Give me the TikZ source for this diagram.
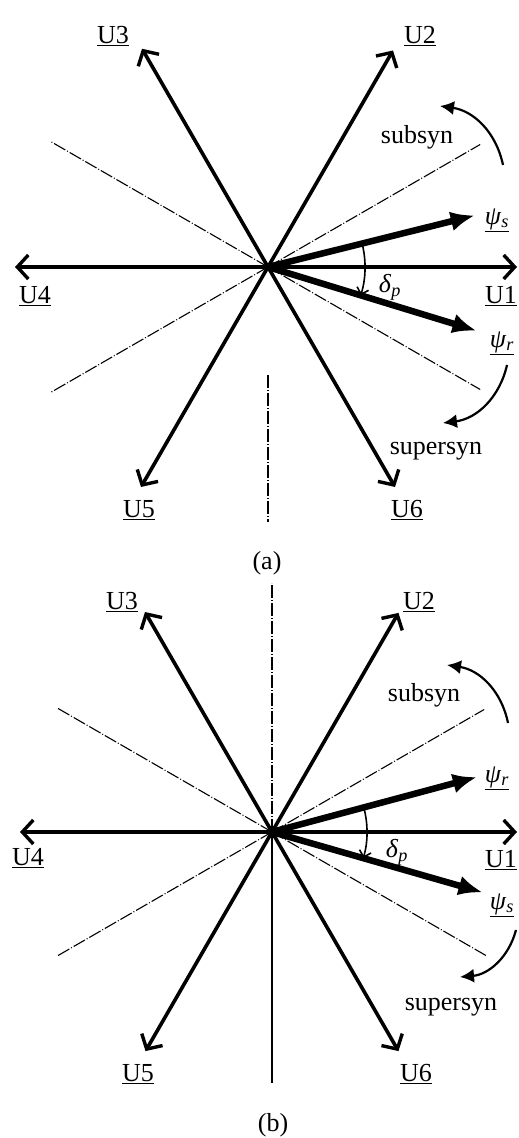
\documentclass[tikz,border=0pt]{standalone}
\usepackage{fontspec}
\setmainfont{Liberation Serif}
\usetikzlibrary{arrows.meta}

\begin{document}
\begin{tikzpicture}[x=1pt,y=1pt,font=\fontsize{26}{30}\selectfont]
\tikzstyle{vec} = [line width=3.6pt, -{Straight Barb[length=11pt,width=24pt,line width=3.4pt]}]
\tikzstyle{flux} = [line width=6.5pt, -{Latex[length=24pt,width=20pt]}]
\tikzstyle{guide} = [line width=1.1pt, dash pattern=on 13pt off 2pt on 1pt off 2pt]
\tikzstyle{turn} = [line width=2.2pt, -{Latex[length=14pt,width=14pt]}]
\tikzstyle{angle} = [line width=1.6pt, -{Straight Barb[length=6pt,width=12pt]}]
\tikzstyle{lbl} = [inner sep=0pt]

\useasboundingbox (0,0) rectangle (519,1138);

% (a) stator flux leads
\begin{scope}[shift={(268,871)}]
\coordinate (oa) at (0,0);
\coordinate (u1a) at (0:249);
\coordinate (u2a) at (60:250);
\coordinate (u3a) at (120:252);
\coordinate (u4a) at (180:253);
\coordinate (u5a) at (240:254);
\coordinate (u6a) at (300:254);
\coordinate (psa) at (14:213);
\coordinate (pra) at (-17:218);
\coordinate (g1a) at (30:245);
\coordinate (g2a) at (150:250);
\coordinate (g3a) at (210:250);
\coordinate (g4a) at (330:245);
\coordinate (v1a) at (270:108);
\coordinate (v2a) at (270:255);
\coordinate (d1a) at (14:97);
\coordinate (s1a) at (235,102);
\coordinate (s2a) at (172,161);
\coordinate (t1a) at (239,-98);
\coordinate (t2a) at (175,-156);

\draw [guide] (oa) -- (g1a);
\draw [guide] (oa) -- (g2a);
\draw [guide] (oa) -- (g3a);
\draw [guide] (oa) -- (g4a);
\draw [guide] (v1a) -- (v2a);

\draw [vec] (oa) -- (u1a);
\draw [vec] (oa) -- (u2a);
\draw [vec] (oa) -- (u3a);
\draw [vec] (oa) -- (u4a);
\draw [vec] (oa) -- (u5a);
\draw [vec] (oa) -- (u6a);
\draw [flux] (oa) -- (psa);
\draw [flux] (oa) -- (pra);
\draw [angle] (d1a) arc[start angle=14, end angle=-17, radius=97];
\draw [turn] (s1a) to[bend right=35] (s2a);
\draw [turn] (t1a) to[bend left=35] (t2a);

\node[lbl] (l1a) at (233,-29) {\underline{U1}};
\node[lbl] (l2a) at (152,231) {\underline{U2}};
\node[lbl] (l3a) at (-155,231) {\underline{U3}};
\node[lbl] (l4a) at (-233,-29) {\underline{U4}};
\node[lbl] (l5a) at (-129,-243) {\underline{U5}};
\node[lbl] (l6a) at (139,-243) {\underline{U6}};
\node[lbl] (lpsa) at (229,47) {\underline{\textit{ψ}\textsubscript{\textit{s}}}};
\node[lbl] (lpra) at (234,-76) {\underline{\textit{ψ}\textsubscript{\textit{r}}}};
\node[lbl] (lda) at (122,-20) {\textit{δ}\textsubscript{\textit{p}}};
\node[lbl] (suba) at (149,130) {subsyn};
\node[lbl] (supa) at (168,-184) {supersyn};
\node[lbl] (capa) at (-1,-296) {(a)};
\end{scope}

% (b) rotor flux leads
\begin{scope}[shift={(272,306)}]
\coordinate (ob) at (0,0);
\coordinate (u1b) at (0:245);
\coordinate (u2b) at (60:253);
\coordinate (u3b) at (120:254);
\coordinate (u4b) at (180:252);
\coordinate (u5b) at (240:253);
\coordinate (u6b) at (300:253);
\coordinate (prb) at (15:212);
\coordinate (psb) at (-16:219);
\coordinate (g1b) at (30:245);
\coordinate (g2b) at (150:248);
\coordinate (g3b) at (210:248);
\coordinate (g4b) at (330:248);
\coordinate (v1b) at (90:249);
\coordinate (v2b) at (270:251);
\coordinate (d1b) at (15:95);
\coordinate (s1b) at (236,109);
\coordinate (s2b) at (175,167);
\coordinate (t1b) at (244,-98);
\coordinate (t2b) at (188,-145);

\draw [guide] (ob) -- (g1b);
\draw [guide] (ob) -- (g2b);
\draw [guide] (ob) -- (g3b);
\draw [guide] (ob) -- (g4b);
\draw [guide] (ob) -- (v1b);
\draw [line width=1.1pt] (ob) -- (v2b);

\draw [vec] (ob) -- (u1b);
\draw [vec] (ob) -- (u2b);
\draw [vec] (ob) -- (u3b);
\draw [vec] (ob) -- (u4b);
\draw [vec] (ob) -- (u5b);
\draw [vec] (ob) -- (u6b);
\draw [flux] (ob) -- (prb);
\draw [flux] (ob) -- (psb);
\draw [angle] (d1b) arc[start angle=15, end angle=-16, radius=95];
\draw [turn] (s1b) to[bend right=35] (s2b);
\draw [turn] (t1b) to[bend left=35] (t2b);

\node[lbl] (l1b) at (229,-28) {\underline{U1}};
\node[lbl] (l2b) at (147,230) {\underline{U2}};
\node[lbl] (l3b) at (-150,230) {\underline{U3}};
\node[lbl] (l4b) at (-244,-26) {\underline{U4}};
\node[lbl] (l5b) at (-134,-242) {\underline{U5}};
\node[lbl] (l6b) at (144,-242) {\underline{U6}};
\node[lbl] (lprb) at (225,54) {\underline{\textit{ψ}\textsubscript{\textit{r}}}};
\node[lbl] (lpsb) at (230,-73) {\underline{\textit{ψ}\textsubscript{\textit{s}}}};
\node[lbl] (ldb) at (125,-20) {\textit{δ}\textsubscript{\textit{p}}};
\node[lbl] (subb) at (152,137) {subsyn};
\node[lbl] (supb) at (179,-175) {supersyn};
\node[lbl] (capb) at (1,-293) {(b)};
\end{scope}
\end{tikzpicture}
\end{document}
